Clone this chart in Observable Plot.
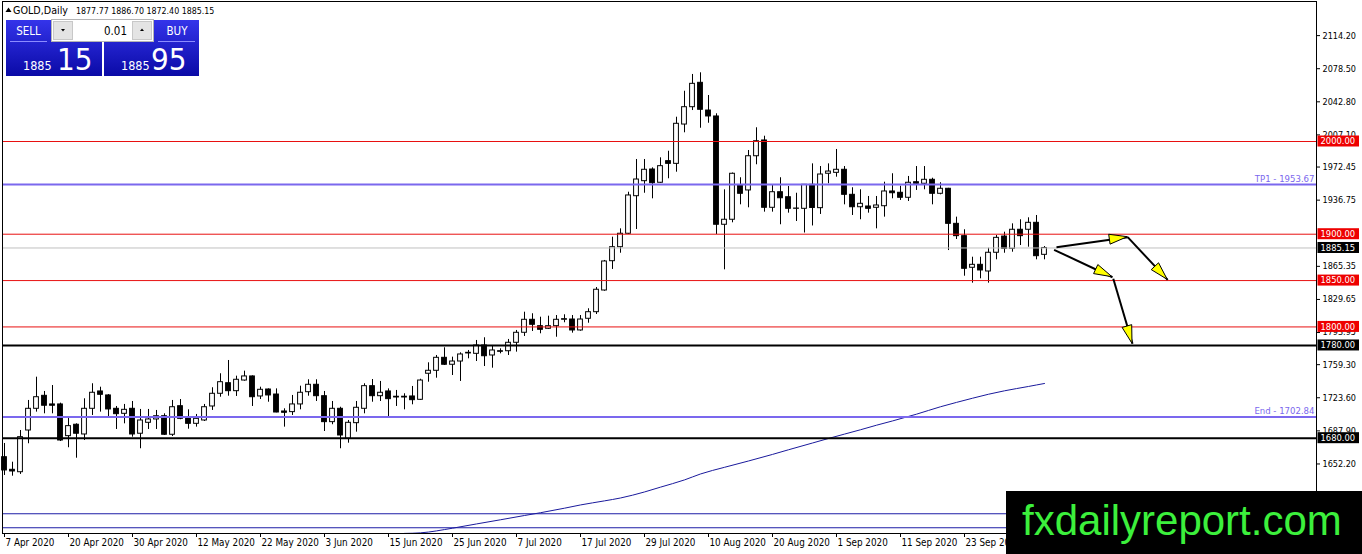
<!DOCTYPE html>
<html>
<head>
<meta charset="utf-8">
<script src="https://cdn.jsdelivr.net/npm/d3@7"></script>
<script src="https://cdn.jsdelivr.net/npm/@observablehq/plot@0.6"></script>
<style>
  html, body { margin: 0; padding: 0; background: #fff; }
  #wrap { position: relative; width: 1362px; height: 554px; overflow: hidden; }
</style>
</head>
<body>
<div id="wrap"></div>
<script>
// ---- OHLC (daily XAUUSD, bar index 0 = 7 Apr 2020) ----
const opens = [1659.5,1645.9,1643.3,1688.3,1711.7,1725.7,1716.4,1716.4,1682.2,1694.5,
1684.0,1711.7,1730.4,1726.1,1711.7,1706.3,1711.7,1684.8,1696.6,1700.2,
1703.7,1683.7,1714.5,1701.6,1695.5,1699.1,1714.2,1727.9,1739.3,1730.7,
1742.2,1746.6,1725.0,1732.5,1727.1,1708.8,1708.1,1716.4,1729.6,1737.6,
1725.3,1697.3,1711.7,1679.4,1696.2,1711.7,1736.1,1725.3,1730.4,1724.7,
1723.9,1725.0,1721.4,1749.5,1752.7,1766.7,1759.2,1762.7,1771.4,1771.0,
1780.0,1769.2,1773.8,1773.8,1782.9,1793.7,1807.7,1800.8,1798.0,1800.8,
1807.7,1808.0,1796.2,1808.8,1815.9,1839.3,1870.9,1886.0,1900.5,1941.0,
1957.2,1969.8,1955.5,1978.8,1975.9,2018.3,2037.0,2063.3,2033.4,2027.0,
1910.2,1915.6,1952.5,1947.2,1984.1,2001.1,1928.5,1945.3,1939.9,1927.4,
1927.4,1953.3,1928.1,1965.2,1966.2,1969.5,1942.5,1929.1,1929.9,1928.5,
1930.2,1946.1,1944.7,1939.3,1956.1,1954.4,1958.7,1943.6,1949.0,1911.2,
1897.9,1863.8,1867.0,1859.8,1880.0,1897.5,1884.3,1904.8,1904.8,1912.3,
1877.77];
const highs = [1674.3,1654.1,1688.3,1720.7,1745.8,1730.4,1736.8,1717.8,1702.0,1695.5,
1722.5,1738.7,1735.0,1727.0,1714.2,1716.4,1719.6,1711.0,1711.0,1709.9,
1706.3,1720.7,1721.7,1710.6,1705.6,1716.4,1734.4,1749.5,1763.8,1746.9,
1752.3,1747.2,1735.0,1733.2,1733.2,1711.7,1726.1,1736.1,1743.0,1743.0,
1730.4,1719.6,1713.4,1699.1,1719.6,1738.7,1743.3,1741.2,1733.2,1731.5,
1727.9,1735.8,1743.6,1761.3,1769.2,1777.5,1767.4,1772.1,1774.6,1785.4,
1788.3,1780.0,1776.4,1786.5,1796.2,1815.9,1814.2,1810.5,1811.6,1812.3,
1813.1,1812.3,1812.3,1819.6,1842.5,1871.7,1896.8,1905.8,1945.3,1980.6,
1980.6,1971.6,1982.4,1989.5,2026.2,2054.2,2072.3,2074.1,2049.6,2029.9,
1947.9,1966.0,1960.9,1990.3,2014.8,2005.7,1952.5,1960.9,1951.5,1944.2,
1953.6,1975.9,1973.0,1975.9,1991.4,1973.0,1950.1,1947.9,1940.7,1940.7,
1956.1,1965.2,1951.8,1962.3,1973.0,1973.0,1960.4,1955.5,1949.5,1918.4,
1904.8,1875.2,1875.2,1884.9,1898.6,1902.2,1911.2,1915.6,1917.7,1920.2,
1886.70];
const lows = [1639.8,1639.0,1640.9,1674.0,1708.1,1706.3,1706.3,1676.4,1669.7,1658.4,
1677.5,1704.5,1708.1,1703.4,1689.4,1695.5,1681.1,1668.6,1689.4,1689.4,
1682.9,1681.8,1699.9,1689.7,1691.9,1698.0,1709.9,1724.2,1725.3,1725.0,
1741.5,1714.2,1721.7,1718.8,1707.4,1691.9,1704.5,1710.6,1725.3,1719.6,
1687.2,1694.5,1668.6,1674.6,1686.5,1706.3,1718.8,1719.6,1703.4,1714.2,
1710.6,1716.0,1720.7,1740.4,1744.7,1758.4,1747.6,1741.2,1765.6,1762.7,
1757.3,1755.5,1771.0,1769.2,1772.8,1789.7,1795.1,1792.6,1797.2,1788.9,
1804.5,1793.3,1795.4,1804.0,1813.4,1838.5,1862.0,1879.5,1899.7,1905.1,
1944.2,1938.2,1955.0,1959.8,1966.9,2009.4,2033.4,2014.3,2019.7,1899.7,
1861.6,1912.3,1931.7,1928.5,1974.9,1923.8,1923.8,1910.2,1922.7,1913.7,
1901.3,1908.9,1921.3,1954.4,1961.5,1931.7,1920.2,1915.6,1922.7,1905.8,
1918.4,1938.2,1936.4,1935.3,1947.2,1947.9,1931.7,1942.5,1882.4,1894.3,
1854.7,1847.2,1851.9,1847.2,1872.4,1879.5,1880.6,1887.8,1886.0,1872.4,
1872.40];
const closes = [1645.2,1644.1,1681.1,1711.7,1724.2,1715.0,1715.0,1677.5,1693.0,1684.8,
1711.7,1729.0,1726.8,1711.0,1705.9,1710.6,1684.0,1699.1,1700.2,1703.7,
1683.7,1713.4,1700.9,1695.5,1700.9,1713.4,1727.9,1740.4,1730.7,1743.0,
1746.6,1724.2,1732.2,1726.1,1707.7,1707.4,1716.4,1729.0,1737.6,1725.3,
1697.3,1711.7,1682.9,1696.6,1712.8,1736.1,1725.3,1729.0,1722.1,1723.9,
1724.7,1721.0,1742.2,1752.7,1766.7,1759.2,1762.7,1770.3,1772.1,1780.0,
1768.4,1774.6,1773.2,1782.9,1793.7,1807.7,1802.3,1796.9,1800.8,1807.7,
1808.4,1796.2,1808.0,1815.9,1840.1,1870.6,1886.0,1900.5,1941.8,1959.0,
1969.5,1955.0,1973.4,1975.9,2019.1,2037.0,2062.2,2034.2,2027.0,1910.2,
1915.6,1965.2,1943.6,1984.1,2000.3,1928.5,1945.3,1938.8,1927.4,1927.7,
1953.3,1928.3,1964.4,1967.6,1969.5,1942.5,1929.1,1932.8,1927.4,1931.0,
1946.1,1944.2,1939.3,1955.5,1954.4,1958.7,1943.6,1949.0,1911.2,1897.9,
1862.7,1867.0,1860.9,1880.0,1896.1,1884.3,1904.8,1897.9,1912.3,1876.3,
1885.15];

// ---- moving average (read at sampled bars) ----
const maIdx = [50,52,56,59,62,65,67,70,72,75,77,80,82,85,87,90,93,96,98,101,103,105,107,109,111,114,117,119,121,123,125,128,130];
const maVal = [1577.3,1577.9,1582.9,1587.5,1592.0,1596.6,1599.6,1604.5,1608.0,1612.4,1615.5,1622.0,1627.2,1635.0,1641.4,1648.6,1655.4,1662.5,1667.5,1674.8,1679.7,1684.4,1689.1,1694.0,1698.6,1705.9,1713.9,1718.6,1723.1,1727.4,1731.1,1735.8,1739.0];

// ---- axis ticks ----
const dateTickIdx = [0,8,16,24,32,40,48,56,64,72,80,88,96,104,112,120];
const dateTickLabels = ["7 Apr 2020","20 Apr 2020","30 Apr 2020","12 May 2020","22 May 2020","3 Jun 2020","15 Jun 2020","25 Jun 2020","7 Jul 2020","17 Jul 2020","29 Jul 2020","10 Aug 2020","20 Aug 2020","1 Sep 2020","11 Sep 2020","23 Sep 2020"];
const priceTicks = [2114.20,2078.50,2042.80,2007.10,1972.45,1936.75,1865.35,1829.65,1793.95,1759.30,1723.60,1687.90,1652.20];

// ---- horizontal levels ----
const redLevels = [2000, 1900, 1850, 1800];
const blackLevels = [1780, 1680];
const slateLevels = [1953.67, 1702.84];
const slateLabels = ["TP1 - 1953.67", "End - 1702.84"];
const navyLevels = [1598.5, 1583.4];
const bidPrice = 1885.15;
const askPrice = 1885.95;
const lotSize = "0.01";

// ---- arrows (bar index, price) ----
const arrowFromX = [131.5, 140.4, 131.2, 138.6];
const arrowFromY = [1886.0, 1896.8, 1883.2, 1851.9];
const arrowToX   = [140.4, 145.4, 138.5, 141.0];
const arrowToY   = [1896.8, 1850.8, 1853.6, 1781.8];

// ---- build tables ----
const bars = opens.map((o, i) => ({i, o, h: highs[i], l: lows[i], c: closes[i]}));
const bull = bars.filter(d => d.c >= d.o);
const bear = bars.filter(d => d.c < d.o);
const ma = maIdx.map((i, k) => ({i, v: maVal[k]}));
const arrows = arrowFromX.map((_, k) => ({x1: arrowFromX[k], y1: arrowFromY[k], x2: arrowToX[k], y2: arrowToY[k]}));
const slate = slateLevels.map((v, k) => ({v, t: slateLabels[k]}));

const FONT = '"DejaVu Sans Condensed","DejaVu Sans",sans-serif';

const plot = Plot.plot({
  width: 1362, height: 554,
  marginTop: 1, marginBottom: 21, marginLeft: 2, marginRight: 46,
  style: {fontFamily: FONT, fontSize: "9px", background: "white", color: "black", overflow: "visible"},
  x: {type: "linear", domain: [-0.25, 164], ticks: dateTickIdx,
      tickFormat: i => dateTickLabels[dateTickIdx.indexOf(i)], tickSize: 4, tickPadding: 2, label: null},
  y: {domain: [1577.2, 2151.0], axis: "right", ticks: priceTicks,
      tickFormat: d => d.toFixed(2), tickSize: 3, tickPadding: 3, label: null},
  marks: [
    Plot.ruleY(navyLevels, {stroke: "#1c1ca6", strokeWidth: 1}),
    Plot.line(ma, {x: "i", y: "v", stroke: "#1a1a9c", strokeWidth: 1, curve: "monotone-x"}),
    Plot.ruleX(bars, {x: "i", y1: "l", y2: "h", stroke: "black", strokeWidth: 1}),
    Plot.rect(bull, {x1: d => d.i - 0.3, x2: d => d.i + 0.3, y1: "o", y2: "c", fill: "white", stroke: "black", strokeWidth: 1}),
    Plot.rect(bear, {x1: d => d.i - 0.3, x2: d => d.i + 0.3, y1: "o", y2: "c", fill: "black", stroke: "black", strokeWidth: 1}),
    Plot.ruleY([bidPrice], {stroke: "#c0c0c0", strokeWidth: 1}),
    Plot.ruleY(redLevels, {stroke: "#e81010", strokeWidth: 1}),
    Plot.ruleY(slateLevels, {stroke: "#7b68ee", strokeWidth: 2}),
    Plot.ruleY(blackLevels, {stroke: "black", strokeWidth: 2}),
    Plot.text(slate, {y: "v", text: "t", frameAnchor: "right", textAnchor: "end", dx: -2, dy: -6, fill: "#7b68ee", fontSize: 9.5}),
    Plot.link(arrows, {x1: "x1", y1: "y1", x2: "x2", y2: "y2", stroke: "black", strokeWidth: 2}),
    Plot.frame({stroke: "black"})
  ]
});

document.getElementById("wrap").appendChild(plot);

const svg = d3.select(plot.tagName.toLowerCase() === "svg" ? plot : plot.querySelector("svg"));
const xs = plot.scale("x"), ys = plot.scale("y");

// left-align date labels at their ticks (MT4 style)
svg.selectAll("g[aria-label^='x-axis'] text").attr("text-anchor", "start").attr("dx", "1").attr("font-size", "9.8px");

// arrow heads
arrows.forEach(a => {
  const x1 = xs.apply(a.x1), y1 = ys.apply(a.y1), x2 = xs.apply(a.x2), y2 = ys.apply(a.y2);
  const L = Math.hypot(x2 - x1, y2 - y1), ux = (x2 - x1) / L, uy = (y2 - y1) / L;
  const bx = x2 - ux * 18, by = y2 - uy * 18, px = -uy, py = ux;
  svg.append("polygon")
    .attr("points", `${x2},${y2} ${bx + px * 5},${by + py * 5} ${bx - px * 5},${by - py * 5}`)
    .attr("fill", "#ffff00").attr("stroke", "black").attr("stroke-width", 1);
});

// price boxes on the right axis
const xr = xs.apply(164) + 1.5;
const boxes = [
  ...redLevels.map(v => ({v, fill: "#ee0000"})),
  ...blackLevels.map(v => ({v, fill: "#000"})),
  {v: bidPrice, fill: "#000"}
];
const bx = svg.append("g").attr("text-anchor", "start").attr("font-family", FONT).attr("font-size", 9.3);
boxes.forEach(b => {
  const y = ys.apply(b.v);
  bx.append("rect").attr("x", xr).attr("y", y - 5.5).attr("width", 41.5).attr("height", 11).attr("fill", b.fill);
  bx.append("text").attr("x", xr + 3).attr("y", y).attr("dy", "0.34em").attr("fill", "white").text(b.v.toFixed(2));
});

// header
const last = bars[bars.length - 1];
const hdr = svg.append("g").attr("font-family", FONT).attr("fill", "black").attr("text-anchor", "start");
hdr.append("path").attr("d", "M5.5,12 L8.5,7.5 L11.5,12 Z").attr("fill", "black");
hdr.append("text").attr("x", 13).attr("y", 13.5).attr("font-family", '"DejaVu Sans",sans-serif').attr("font-size", 9.6).text("GOLD,Daily");
hdr.append("text").attr("x", 76).attr("y", 13.5).attr("font-size", 8.8)
  .text([last.o, last.h, last.l, last.c].map(v => v.toFixed(2)).join(" "));

// one-click trading panel
const defs = svg.append("defs");
const grad = defs.append("linearGradient").attr("id", "bluegrad").attr("x1", 0).attr("y1", 0).attr("x2", 0).attr("y2", 1);
grad.append("stop").attr("offset", "0%").attr("stop-color", "#3434ea");
grad.append("stop").attr("offset", "100%").attr("stop-color", "#0a0aa6");
const pn = svg.append("g").attr("font-family", FONT).attr("text-anchor", "start");
pn.append("rect").attr("x", 6).attr("y", 20).attr("width", 96).attr("height", 56).attr("fill", "url(#bluegrad)");
pn.append("rect").attr("x", 104).attr("y", 20).attr("width", 95).attr("height", 56).attr("fill", "url(#bluegrad)");
pn.append("rect").attr("x", 51.5).attr("y", 19.5).attr("width", 102).attr("height", 22).attr("fill", "white").attr("stroke", "#b4b4b4");
pn.append("rect").attr("x", 53.5).attr("y", 21.5).attr("width", 19).attr("height", 18).attr("fill", "#e4e4e4").attr("stroke", "#c8c8c8");
pn.append("rect").attr("x", 132.5).attr("y", 21.5).attr("width", 19).attr("height", 18).attr("fill", "#e4e4e4").attr("stroke", "#c8c8c8");
pn.append("path").attr("d", "M61,29 L65,29 L63,31.5 Z").attr("fill", "black");
pn.append("path").attr("d", "M140,31 L144,31 L142,28.5 Z").attr("fill", "black");
pn.append("text").attr("x", 127).attr("y", 34.5).attr("text-anchor", "end").attr("font-size", 11.5).attr("fill", "black").text(lotSize);
pn.append("line").attr("x1", 10).attr("x2", 47).attr("y1", 41.5).attr("y2", 41.5).attr("stroke", "#8c8cff");
pn.append("line").attr("x1", 158).attr("x2", 195).attr("y1", 41.5).attr("y2", 41.5).attr("stroke", "#8c8cff");
pn.append("text").attr("x", 28.5).attr("y", 34.5).attr("text-anchor", "middle").attr("font-size", 11.5).attr("fill", "white").text("SELL");
pn.append("text").attr("x", 177).attr("y", 34.5).attr("text-anchor", "middle").attr("font-size", 11.5).attr("fill", "white").text("BUY");
const bidStr = bidPrice.toFixed(2).split("."), askStr = askPrice.toFixed(2).split(".");
pn.append("text").attr("x", 23).attr("y", 70).attr("font-size", 12.5).attr("fill", "white").text(bidStr[0]);
pn.append("text").attr("x", 57).attr("y", 70).attr("font-size", 31).attr("fill", "white").text(bidStr[1]);
pn.append("text").attr("x", 121).attr("y", 70).attr("font-size", 12.5).attr("fill", "white").text(askStr[0]);
pn.append("text").attr("x", 151).attr("y", 70).attr("font-size", 31).attr("fill", "white").text(askStr[1]);

// watermark logo
svg.append("rect").attr("x", 1006).attr("y", 491).attr("width", 356).attr("height", 63).attr("fill", "black");
svg.append("text").attr("x", 1022).attr("y", 535).attr("text-anchor", "start").attr("font-family", '"Liberation Sans",Arial,sans-serif')
  .attr("font-size", 42).attr("fill", "#3cf03c").text("fxdailyreport.com");
</script>
</body>
</html>
